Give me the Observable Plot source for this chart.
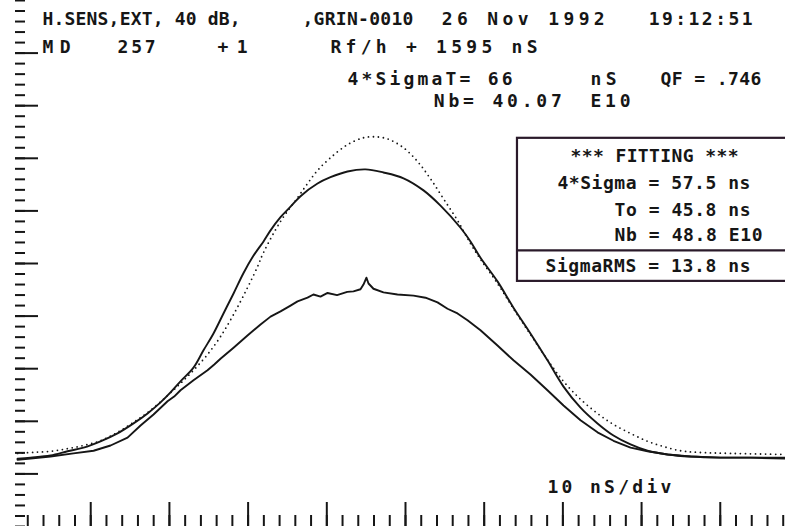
<!DOCTYPE html>
<html>
<head>
<meta charset="utf-8">
<script src="https://cdn.jsdelivr.net/npm/d3@7"></script>
<script src="https://cdn.jsdelivr.net/npm/@observablehq/plot@0.6"></script>
<style>
  html, body { margin: 0; padding: 0; background: #fff; }
  #chart svg { display: block; }
</style>
</head>
<body>
<div id="chart"></div>
<script>
// ---- Data (time in ns, signal in screen divisions) ----
// Measured bunch profile (tall solid trace)
const traceMeasured = [
  [0.7,0.29],[2.35,0.31],[4.89,0.35],[7.05,0.43],[9.09,0.50],[11.24,0.62],[13.40,0.77],[15.44,0.96],
  [17.22,1.15],[18.87,1.36],[20.14,1.55],[21.41,1.76],[23.06,2.02],[24.33,2.35],[25.60,2.67],[26.87,3.05],
  [28.15,3.43],[29.42,3.82],[30.69,4.15],[31.96,4.42],[32.85,4.63],[34.12,4.88],[35.39,5.08],[36.66,5.28],
  [38.82,5.52],[40.47,5.64],[42.63,5.75],[44.92,5.79],[47.20,5.73],[49.75,5.62],[52.29,5.39],[54.45,5.10],
  [56.99,4.68],[58.26,4.42],[59.53,4.11],[61.69,3.66],[63.72,3.16],[65.88,2.67],[68.04,2.16],[70.08,1.66],
  [72.24,1.26],[74.40,0.96],[76.43,0.73],[78.60,0.56],[80.76,0.44],[83.30,0.37],[86.22,0.33],[90.03,0.31],
  [93.84,0.31],[98.16,0.31]
];
// Lower solid trace (with spike near the centre)
const traceLower = [
  [0.7,0.27],[2.35,0.29],[4.89,0.33],[7.81,0.39],[10.36,0.44],[12.52,0.54],[14.68,0.69],[16.33,0.92],
  [17.98,1.13],[19.76,1.38],[20.6,1.47],[21.41,1.59],[23.06,1.78],[24.84,1.97],[25.7,2.08],[26.49,2.19],
  [28.15,2.40],[29.92,2.63],[31.58,2.84],[32.85,2.99],[34.12,3.09],[35.39,3.20],[36.28,3.28],[37.55,3.35],
  [38.3,3.41],[39.2,3.37],[40.1,3.44],[41.3,3.40],[42.6,3.46],[43.39,3.47],[44.28,3.51],[44.66,3.60],
  [45.04,3.73],[45.30,3.62],[45.93,3.52],[47.20,3.45],[48.98,3.41],[51.02,3.39],[52.54,3.35],[54.07,3.26],
  [55.34,3.14],[56.61,3.05],[57.88,2.92],[59.53,2.73],[61.69,2.44],[63.72,2.16],[65.88,1.89],[68.04,1.59],
  [70.08,1.30],[72.24,1.02],[74.40,0.79],[76.43,0.63],[78.60,0.50],[80.76,0.43],[83.30,0.37],[86.22,0.33],
  [90.03,0.31],[93.84,0.31],[98.16,0.29]
];
// Fitted Gaussian (dotted trace)
const traceFit = [
  [0.7,0.39],[2.73,0.41],[4.89,0.43],[7.05,0.48],[9.09,0.54],[11.24,0.63],[13.40,0.79],[15.44,0.98],
  [17.60,1.21],[19.76,1.49],[21.41,1.72],[23.06,1.97],[24.84,2.27],[26.49,2.61],[28.15,3.03],[29.92,3.54],
  [31.20,3.94],[31.96,4.21],[34.12,4.80],[36.28,5.25],[37.55,5.52],[38.82,5.77],[40.47,6.01],[42.63,6.26],
  [44.66,6.39],[45.93,6.41],[47.71,6.37],[49.75,6.20],[51.53,5.94],[53.18,5.61],[54.83,5.23],[56.61,4.82],
  [58.26,4.38],[59.53,4.08],[61.69,3.62],[63.72,3.14],[65.88,2.65],[68.04,2.17],[70.08,1.76],[72.24,1.42],
  [74.40,1.15],[76.43,0.94],[78.60,0.77],[80.76,0.62],[82.79,0.52],[84.95,0.44],[87.12,0.41],[91.31,0.39],
  [98.16,0.37]
];

// Graticule ticks
const xMinorTicks = d3.range(2, 99, 2);
const xMajorTicks = d3.range(10, 99, 10);
const yMinorTicks = d3.range(-1, 9.01, 0.2).map(v => +v.toFixed(1));
const yMajorTicks = d3.range(0, 9, 1);

// Header / annotation texts
const headerTexts = ["H.SENS,EXT, 40 dB,", ",GRIN-0010", "26 Nov 1992", "19:12:51",
  "MD", "257", "+ 1", "Rf/h + 1595 nS",
  "4*SigmaT= 66", "nS", "QF = .746", "Nb= 40.07", "E10"];
const fitTexts = ["*** FITTING ***", "4*Sigma = 57.5 ns", "To = 45.8 ns", "Nb = 48.8 E10", "SigmaRMS = 13.8 ns"];
const scaleText = ["10 nS/div"];

// ---- Layout of annotations (data coordinates, left-anchored) ----
const headerLayout = [
  {x: 3.88, y: 8.65, len: 198}, {x: 36.9, y: 8.65, len: 111}, {x: 54.6, y: 8.65, len: 163}, {x: 80.9, y: 8.65, len: 104},
  {x: 3.88, y: 8.11, len: 28}, {x: 13.41, y: 8.11, len: 38}, {x: 26.11, y: 8.11, len: 30}, {x: 40.47, y: 8.11, len: 207},
  {x: 42.63, y: 7.50, len: 165}, {x: 73.51, y: 7.50, len: 26}, {x: 82.4, y: 7.50, len: 101},
  {x: 53.6, y: 7.08, len: 128}, {x: 73.51, y: 7.08, len: 40}
];
const fitLayout = [
  {x: 70.97, y: 6.04, len: 168}, {x: 69.31, y: 5.52, len: 193},
  {x: 76.56, y: 5.02, len: 136}, {x: 76.56, y: 4.53, len: 148},
  {x: 67.79, y: 3.94, len: 205}
];
const boxFrame = {x1: 64.23, x2: 101, y1: 6.38, y2: 3.66, divider: 4.25};

const headerData = headerTexts.map((t, i) => ({text: t, ...headerLayout[i]}));
const fitData = fitTexts.map((t, i) => ({text: t, ...fitLayout[i]}));
const scaleData = [{text: scaleText[0], x: 68.04, y: -0.26, len: 124}];

const ink = "#161616";
const font = "DejaVu Sans Mono";
const textStyle = {x: "x", y: "y", text: "text", textAnchor: "start", lineAnchor: "middle",
  fontFamily: font, fontSize: 18, fontWeight: "bold", fill: ink};

const chart = Plot.plot({
  width: 785,
  height: 526,
  marginLeft: 15, marginRight: 0, marginTop: 0, marginBottom: 0,
  style: {background: "#fff", overflow: "hidden"},
  x: {domain: [0.44, 98.29], axis: null},
  y: {domain: [-1, 9], axis: null},
  marks: [
    Plot.axisY(yMinorTicks, {anchor: "left", tickSize: -10, tickFormat: () => "", stroke: ink, strokeWidth: 2}),
    Plot.axisY(yMajorTicks, {anchor: "left", tickSize: -23, tickFormat: () => "", stroke: ink, strokeWidth: 2}),
    Plot.axisX(xMinorTicks, {anchor: "bottom", tickSize: -11, tickFormat: () => "", stroke: ink, strokeWidth: 2}),
    Plot.axisX(xMajorTicks, {anchor: "bottom", tickSize: -24, tickFormat: () => "", stroke: ink, strokeWidth: 2}),
    Plot.rect([boxFrame], {x1: "x1", x2: "x2", y1: "y1", y2: "y2", fill: "none", stroke: "#2a1a2a", strokeWidth: 2.2}),
    Plot.ruleY([boxFrame], {y: "divider", x1: "x1", x2: "x2", stroke: "#2a1a2a", strokeWidth: 2.2}),
    Plot.line(traceFit, {x: d => d[0], y: d => d[1], stroke: ink, strokeWidth: 1.8, strokeDasharray: "0 5", strokeLinecap: "round", curve: "catmull-rom"}),
    Plot.line(traceMeasured, {x: d => d[0], y: d => d[1], stroke: ink, strokeWidth: 1.9, curve: "catmull-rom"}),
    Plot.line(traceLower, {x: d => d[0], y: d => d[1], stroke: ink, strokeWidth: 1.9, curve: "linear"}),
    Plot.text(headerData, textStyle),
    Plot.text(fitData, textStyle),
    Plot.text(scaleData, textStyle)
  ]
});

// Stretch each annotation to the width it occupies on the original hardcopy
const lenByText = new Map([...headerData, ...fitData, ...scaleData].map(d => [d.text, d.len]));
d3.select(chart).selectAll("text").each(function() {
  const s = this.textContent;
  if (lenByText.has(s)) {
    this.setAttribute("textLength", lenByText.get(s));
    this.setAttribute("lengthAdjust", "spacing");
  }
});

document.getElementById("chart").append(chart);
</script>
</body>
</html>
